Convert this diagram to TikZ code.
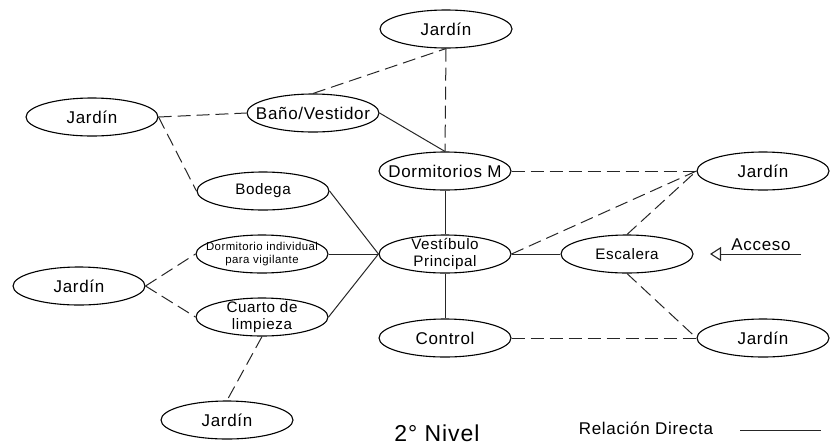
\documentclass[tikz,border=0pt]{standalone}
\usepackage{fontspec}
\setmainfont{Liberation Sans}[LetterSpace=4]
\usetikzlibrary{shapes.geometric,arrows.meta}
\begin{document}
\begin{tikzpicture}[x=1pt,y=-1pt,
  ell/.style={ellipse, draw=black, line width=1.1pt, minimum width=132pt, minimum height=38pt, inner sep=0pt},
  txt/.style={font=\fontsize{17}{17}\selectfont, align=center, inner sep=0pt},
  mid/.style={font=\fontsize{15.2}{16.5}\selectfont, align=center, inner sep=0pt},
  small/.style={font=\fontsize{11.4}{13}\selectfont, align=center, inner sep=0pt},
  solidrel/.style={draw=black!85, line width=1pt},
  dashrel/.style={draw=black!85, line width=1pt, dash pattern=on 13pt off 6pt}]
\useasboundingbox (0,0) rectangle (834,445);
% nodes
\node[ell] (jt) at (446,29) {};      \node[txt] (jtt) at (jt) {Jardín};
\node[ell] (jl) at (92,117) {};      \node[txt] (jlt) at (jl) {Jardín};
\node[ell] (bano) at (313,113) {};   \node[txt] (banot) at (bano) {Baño/Vestidor};
\node[ell] (dm) at (445,171) {};     \node[txt] (dmt) at (dm) {Dormitorios M};
\node[ell] (jr1) at (763,171) {};    \node[txt] (jr1t) at (jr1) {Jardín};
\node[ell] (bod) at (263,191) {};    \node[mid] (bodt) at (bod) {Bodega};
\node[ell] (di) at (262,254) {};     \node[small] (dit) at (di) {Dormitorio individual\\para vigilante};
\node[ell] (vp) at (445,254) {};     \node[mid] (vpt) at (vp) {Vestíbulo\\Principal};
\node[ell] (esc) at (627,254) {};    \node[mid] (esct) at (esc) {Escalera};
\node[ell] (jl2) at (79,286) {};     \node[txt] (jl2t) at (jl2) {Jardín};
\node[ell] (cl) at (262,317) {};     \node[mid, font=\fontsize{15.2}{17}\selectfont] (clt) at (cl) {Cuarto de\\limpieza};
\node[ell] (ctrl) at (445,338) {};   \node[txt] (ctrlt) at (ctrl) {Control};
\node[ell] (jr2) at (763,338) {};    \node[txt] (jr2t) at (jr2) {Jardín};
\node[ell] (jb) at (227,420) {};     \node[txt] (jbt) at (jb) {Jardín};
% connectors
\draw[dashrel] (bano.north) -- (jt.south);
\draw[dashrel] (jt.south) -- (dm.north);
\draw[solidrel] (bano.east) -- (dm.north);
\draw[dashrel] (jl.east) -- (bano.west);
\draw[dashrel] (jl.east) -- (bod.west);
\draw[solidrel] (bod.east) -- (vp.west);
\draw[solidrel] (di.east) -- (vp.west);
\draw[solidrel] (cl.east) -- (vp.west);
\draw[dashrel] (jl2.east) -- (di.west);
\draw[dashrel] (jl2.east) -- (cl.west);
\draw[dashrel] (cl.south) -- (jb.north);
\draw[solidrel] (dm.south) -- (vp.north);
\draw[dashrel] (dm.east) -- (jr1.west);
\draw[dashrel] (vp.east) -- (jr1.west);
\draw[dashrel] (esc.north) -- (jr1.west);
\draw[solidrel] (vp.east) -- (esc.west);
\draw[solidrel] (vp.south) -- (ctrl.north);
\draw[dashrel] (esc.south) -- (jr2.west);
\draw[dashrel] (ctrl.east) -- (jr2.west);
% access arrow
\coordinate (accs) at (801,254);
\coordinate (acce) at (710,254);
\draw[solidrel, -{Triangle[open, length=11pt, width=14pt, line width=1.1pt]}] (accs) -- (acce);
\node[txt, anchor=base] (acc) at (761,250) {Acceso};
% titles and legend
\node[txt, font=\fontsize{23}{24}\selectfont, anchor=base] (niv) at (437,441) {2° Nivel};
\node[txt, anchor=base] (legt) at (646,434) {Relación Directa};
\coordinate (lega) at (740,430);
\coordinate (legb) at (821,430);
\draw[solidrel] (lega) -- (legb);
\end{tikzpicture}
\end{document}
